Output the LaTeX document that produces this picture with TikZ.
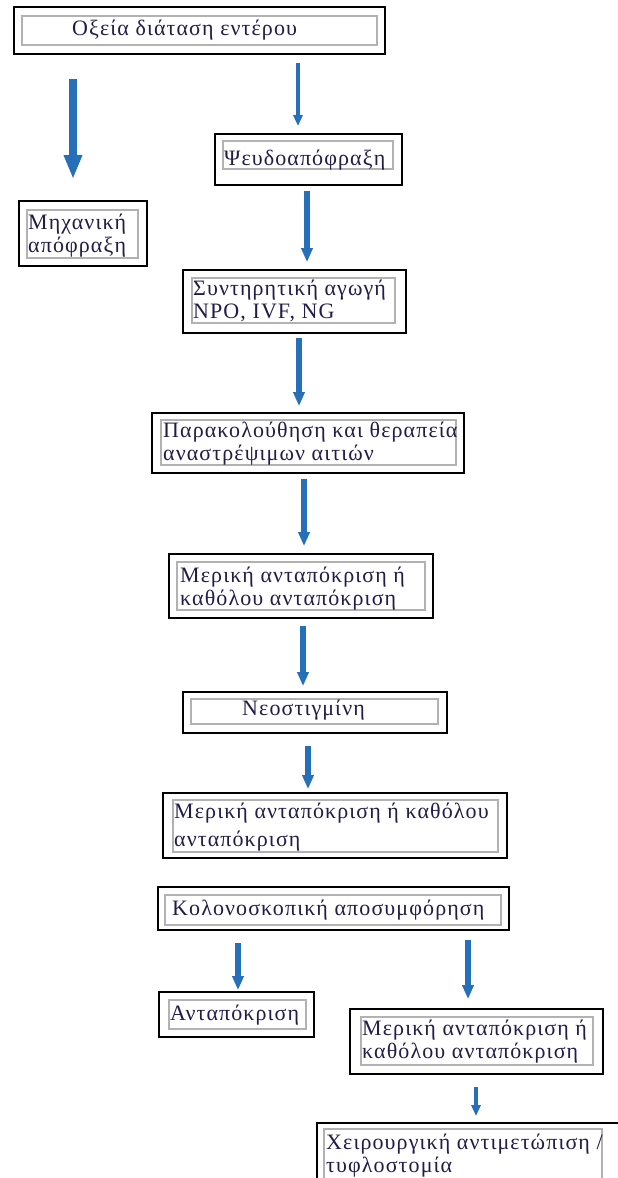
\documentclass[tikz,border=0pt]{standalone}
\usepackage{fontspec}
\setmainfont[LetterSpace=5]{Liberation Serif}
\usetikzlibrary{arrows.meta,fit}
\definecolor{arrowblue}{RGB}{38,112,186}
\definecolor{inkblue}{RGB}{34,28,72}
\definecolor{framegray}{RGB}{178,178,178}
\tikzset{
  obox/.style={draw=black, line width=1.8pt, inner sep=0pt, fit={#1}},
  ibox/.style={draw=framegray, line width=1.1pt},
  txt/.style={anchor=base west, inner sep=0pt, align=left, text=inkblue,
    font=\fontsize{22}{23}\selectfont},
  bluearrow/.style={draw=arrowblue, line width=5.5pt,
    -{Triangle[width=11pt,length=14pt]}},
  bigarrow/.style={bluearrow, line width=8pt, -{Triangle[width=17pt,length=24pt]}},
  thinarrow/.style={bluearrow, line width=4pt, -{Triangle[width=9pt,length=11pt]}}
}
\begin{document}
\begin{tikzpicture}[x=1pt,y=-1pt]
		\useasboundingbox (0,0) rectangle (618,1178);
		\clip (0,0) rectangle (618,1178);
		% boxes (text anchored at the baseline of its last line)
		\node[obox={(14,7) (385,54)}] (acute) {};
		\draw[ibox] (22,16) rectangle (377,45);
		\node[txt] (acutet) at (72,35) {Οξεία διάταση εντέρου};

		\node[obox={(215,134) (402,185)}] (pseudo) {};
		\draw[ibox] (223,141) rectangle (393,169);
		\node[txt] (pseudot) at (224,165) {Ψευδοαπόφραξη};

		\node[obox={(19,201) (147,266)}] (mech) {};
		\draw[ibox] (27,210) rectangle (138,258);
		\node[txt] (mecht) at (28,252) {Μηχανική\\απόφραξη};

		\node[obox={(183,270) (406,333)}] (conserv) {};
		\draw[ibox] (192,278) rectangle (395,323);
		\node[txt] (conservt) at (193,318) {Συντηρητική αγωγή\\NPO, IVF, NG};

		\node[obox={(152,413) (464,473)}] (monitor) {};
		\draw[ibox] (161,420) rectangle (456,465);
		\node[txt] (monitort) at (163,460) {Παρακολούθηση και θεραπεία\\αναστρέψιμων αιτιών};

		\node[obox={(169,554) (433,618)}] (partial) {};
		\draw[ibox] (177,562) rectangle (425,610);
		\node[txt] (partialt) at (180,605) {Μερική ανταπόκριση ή\\καθόλου ανταπόκριση};

		\node[obox={(183,692) (447,733)}] (neo) {};
		\draw[ibox] (191,699) rectangle (438,724);
		\node[txt] (neot) at (242,715) {Νεοστιγμίνη};

		\node[obox={(163,793) (507,858)}] (partialb) {};
		\draw[ibox] (173,800) rectangle (498,852);
		\node[txt] (partialbt) at (174,846) {Μερική ανταπόκριση ή καθόλου\\[5pt]ανταπόκριση};

		\node[obox={(158,887) (509,930)}] (colon) {};
		\draw[ibox] (165,895) rectangle (501,925);
		\node[txt] (colont) at (172,915) {Κολονοσκοπική αποσυμφόρηση};

		\node[obox={(159,992) (314,1037)}] (resp) {};
		\draw[ibox] (169,1000) rectangle (306,1029);
		\node[txt] (respt) at (170,1020) {Ανταπόκριση};

		\node[obox={(350,1009) (603,1074)}] (partialc) {};
		\draw[ibox] (361,1017) rectangle (593,1065);
		\node[txt] (partialct) at (362,1058) {Μερική ανταπόκριση ή\\καθόλου ανταπόκριση};

		\node[obox={(317,1123) (630,1190)}] (surg) {};
		\draw[ibox] (324,1129) rectangle (602,1182);
		\node[txt] (surgt) at (326,1172) {Χειρουργική αντιμετώπιση /\\τυφλοστομία};

		% arrows
		\draw[bigarrow, shorten <=24pt, shorten >=21pt] (acute.south -| 73,0) -- (mech.north -| 73,0);
		\draw[thinarrow, shorten <=8pt, shorten >=7pt] (acute.south -| 298,0) -- (pseudo.north -| 298,0);
		\draw[bluearrow, shorten <=5pt, shorten >=7pt] (pseudo.south -| 307,0) -- (conserv.north -| 307,0);
		\draw[bluearrow, shorten <=4pt, shorten >=6pt] (conserv.south -| 299,0) -- (monitor.north -| 299,0);
		\draw[bluearrow, shorten <=5pt, shorten >=7pt] (monitor.south -| 304,0) -- (partial.north -| 304,0);
		\draw[bluearrow, shorten <=7pt, shorten >=5pt] (partial.south -| 303,0) -- (neo.north -| 303,0);
		\draw[bluearrow, shorten <=12pt, shorten >=3pt] (neo.south -| 308,0) -- (partialb.north -| 308,0);
		\draw[bluearrow, shorten <=12pt, shorten >=1pt] (colon.south -| 238,0) -- (resp.north -| 238,0);
		\draw[bluearrow, shorten <=9pt, shorten >=9pt] (colon.south -| 468,0) -- (partialc.north -| 468,0);
		\draw[thinarrow, shorten <=12pt, shorten >=6pt] (partialc.south -| 476,0) -- (surg.north -| 476,0);
\end{tikzpicture}
\end{document}
